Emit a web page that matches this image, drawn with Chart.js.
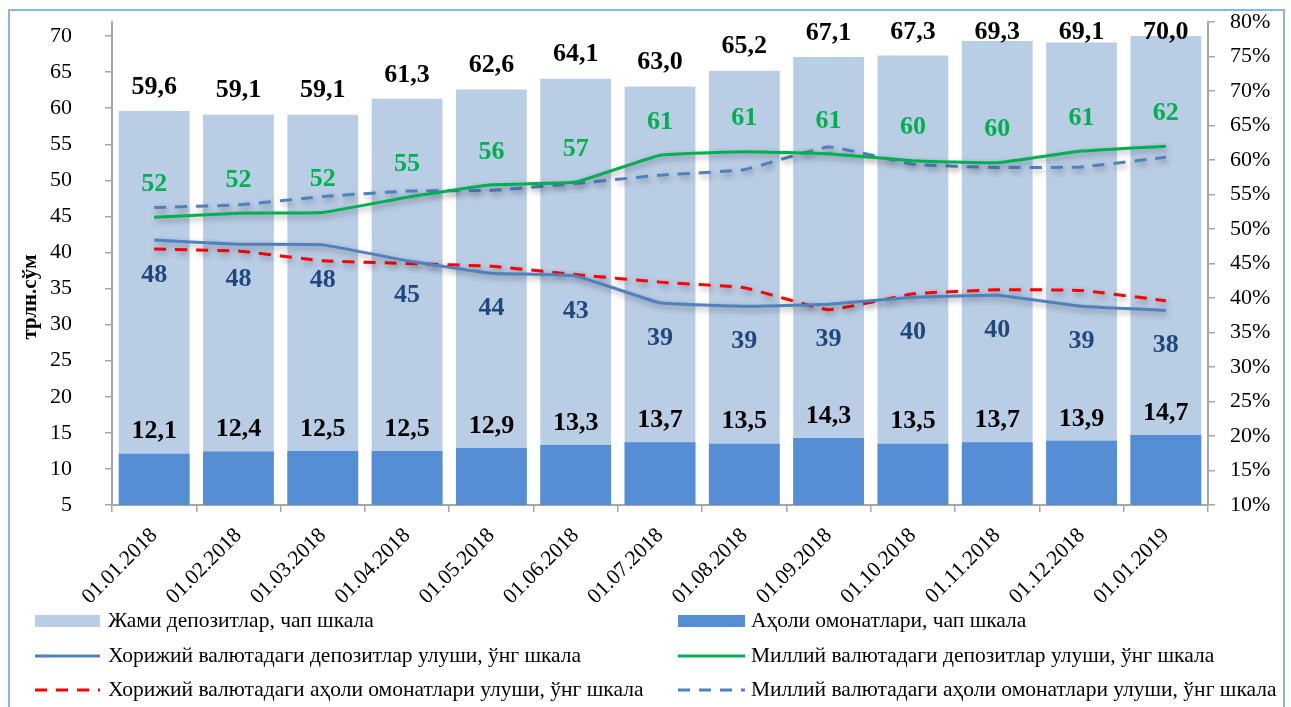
<!DOCTYPE html>
<html><head><meta charset="utf-8">
<script src="https://cdn.jsdelivr.net/npm/chart.js@4.4.1/dist/chart.umd.min.js"></script>
<style>
html,body{margin:0;padding:0;background:#fff;}
#wrap{position:relative;width:1291px;height:707px;overflow:hidden;}
#frame{position:absolute;left:8px;top:9px;width:1277px;height:740px;border:2px solid #8DB3E2;box-sizing:border-box;}
#c{position:absolute;left:0;top:0;}
</style></head><body>
<div id="wrap"><div id="frame"></div><canvas id="c" width="1291" height="707"></canvas></div>
<script>
const categories = ['01.01.2018','01.02.2018','01.03.2018','01.04.2018','01.05.2018','01.06.2018','01.07.2018','01.08.2018','01.09.2018','01.10.2018','01.11.2018','01.12.2018','01.01.2019'];
const totalDeposits = [59.6, 59.1, 59.1, 61.3, 62.6, 64.1, 63.0, 65.2, 67.1, 67.3, 69.3, 69.1, 70.0];
const householdDeposits = [12.1, 12.4, 12.5, 12.5, 12.9, 13.3, 13.7, 13.5, 14.3, 13.5, 13.7, 13.9, 14.7];
const foreignDepShare = [48.4, 47.8, 47.7, 45.4, 43.6, 43.2, 39.3, 38.8, 39.1, 40.1, 40.4, 38.8, 38.2];
const nationalDepShare = [51.7, 52.3, 52.4, 54.6, 56.4, 56.8, 60.7, 61.2, 60.9, 59.9, 59.6, 61.3, 62.0];
const foreignHhShare = [47.1, 46.8, 45.4, 45.0, 44.6, 43.4, 42.3, 41.5, 38.3, 40.6, 41.2, 41.1, 39.6];
const nationalHhShare = [53.1, 53.5, 54.7, 55.5, 55.6, 56.6, 57.8, 58.6, 61.9, 59.4, 58.9, 59.0, 60.4];
const leftTicks = [5,10,15,20,25,30,35,40,45,50,55,60,65,70];
const rightTicks = [10,15,20,25,30,35,40,45,50,55,60,65,70,75,80];
const legendLabels = [
  'Жами депозитлар, чап шкала',
  'Аҳоли омонатлари, чап шкала',
  'Хорижий валютадаги депозитлар улуши, ўнг шкала',
  'Миллий валютадаги депозитлар улуши, ўнг шкала',
  'Хорижий валютадаги аҳоли омонатлари улуши, ўнг шкала',
  'Миллий валютадаги аҳоли омонатлари улуши, ўнг шкала'
];
const yTitle = 'трлн.сўм';

const SERIF = '"Liberation Serif", "Times New Roman", serif';
const C_TOTAL = '#B9CDE5', C_HH = '#558ED5', C_FOR = '#4F81BD', C_NAT = '#00B050', C_RED = '#FF0000', C_NHH = '#4F81BD', C_LBL = '#1F497D';
const fmt1 = v => v.toFixed(1).replace('.', ',');

const shadowPlugin = {
  id: 'shadow',
  beforeDatasetDraw(chart, args) {
    if (chart.data.datasets[args.index].type === 'line') {
      const ctx = chart.ctx; ctx.save();
      ctx.shadowColor = 'rgba(0,0,0,0.35)'; ctx.shadowBlur = 6; ctx.shadowOffsetX = 2; ctx.shadowOffsetY = 3;
    }
  },
  afterDatasetDraw(chart, args) {
    if (chart.data.datasets[args.index].type === 'line') chart.ctx.restore();
  }
};

const labelPlugin = {
  id: 'labels',
  afterDatasetsDraw(chart) {
    const ctx = chart.ctx;
    ctx.save();
    ctx.textAlign = 'center'; ctx.textBaseline = 'middle';
    ctx.font = 'bold 26px ' + SERIF;
    ctx.fillStyle = '#000';
    chart.getDatasetMeta(0).data.forEach((el, i) => ctx.fillText(fmt1(totalDeposits[i]), el.x, Math.max(el.y - 24, 32)));
    chart.getDatasetMeta(1).data.forEach((el, i) => ctx.fillText(fmt1(householdDeposits[i]), el.x, el.y - 22));
    ctx.fillStyle = C_NAT;
    chart.getDatasetMeta(3).data.forEach((el, i) => ctx.fillText(String(Math.round(nationalDepShare[i])), el.x, el.y - 33));
    ctx.fillStyle = C_LBL;
    chart.getDatasetMeta(2).data.forEach((el, i) => ctx.fillText(String(Math.round(foreignDepShare[i])), el.x, el.y + 35));
    // y axis title
    ctx.fillStyle = '#000';
    ctx.font = 'bold 21px ' + SERIF;
    ctx.translate(31, 297); ctx.rotate(-Math.PI / 2);
    ctx.fillText(yTitle, 0, 0);
    ctx.restore();
  }
};

const legendPlugin = {
  id: 'customLegend',
  afterDraw(chart) {
    const ctx = chart.ctx;
    const cols = [{sx: 35, ex: 100, tx: 108}, {sx: 678, ex: 745, tx: 751}];
    const rows = [621, 656, 690];
    const kinds = [
      {type: 'rect', color: C_TOTAL}, {type: 'rect', color: C_HH},
      {type: 'line', color: C_FOR, dash: []}, {type: 'line', color: C_NAT, dash: []},
      {type: 'line', color: C_RED, dash: [12, 9]}, {type: 'line', color: C_NHH, dash: [12, 9]}
    ];
    ctx.save();
    ctx.font = '21.5px ' + SERIF; ctx.textBaseline = 'middle'; ctx.textAlign = 'left';
    legendLabels.forEach((t, i) => {
      const c = cols[i % 2], y = rows[Math.floor(i / 2)], k = kinds[i];
      if (k.type === 'rect') {
        ctx.fillStyle = k.color; ctx.fillRect(c.sx, y - 6, c.ex - c.sx, 12);
      } else {
        ctx.strokeStyle = k.color; ctx.lineWidth = 3; ctx.setLineDash(k.dash);
        ctx.beginPath(); ctx.moveTo(c.sx, y); ctx.lineTo(c.ex, y); ctx.stroke(); ctx.setLineDash([]);
      }
      ctx.fillStyle = '#000'; ctx.fillText(t, c.tx, y);
    });
    ctx.restore();
  }
};

const axisGray = '#A6A6A6';
new Chart(document.getElementById('c'), {
  type: 'bar',
  data: {
    labels: categories,
    datasets: [
      {type: 'bar', label: legendLabels[0], data: totalDeposits, backgroundColor: C_TOTAL, yAxisID: 'y', order: 3, categoryPercentage: 1, barPercentage: 0.84},
      {type: 'bar', label: legendLabels[1], data: householdDeposits, backgroundColor: C_HH, yAxisID: 'y', order: 2, categoryPercentage: 1, barPercentage: 0.84},
      {type: 'line', label: legendLabels[2], data: foreignDepShare, borderColor: C_FOR, borderWidth: 3, pointRadius: 0, tension: 0.1, yAxisID: 'y1', order: 0},
      {type: 'line', label: legendLabels[3], data: nationalDepShare, borderColor: C_NAT, borderWidth: 3, pointRadius: 0, tension: 0.1, yAxisID: 'y1', order: 0},
      {type: 'line', label: legendLabels[4], data: foreignHhShare, borderColor: C_RED, borderWidth: 3, borderDash: [12, 9], pointRadius: 0, tension: 0.1, yAxisID: 'y1', order: 1},
      {type: 'line', label: legendLabels[5], data: nationalHhShare, borderColor: C_NHH, borderWidth: 3, borderDash: [12, 9], pointRadius: 0, tension: 0.1, yAxisID: 'y1', order: 1}
    ]
  },
  options: {
    responsive: false, animation: false, devicePixelRatio: 1,
    layout: {padding: {left: 10, right: 13, top: 22, bottom: 102}},
    plugins: {legend: {display: false}, tooltip: {enabled: false}},
    scales: {
      x: {
        stacked: true, offset: true,
        grid: {display: true, drawOnChartArea: false, drawTicks: true, tickLength: 7, color: axisGray, lineWidth: 1.5, offset: true},
        border: {display: true, color: axisGray, width: 2},
        ticks: {color: '#000', font: {family: SERIF, size: 21.5}, minRotation: 45, maxRotation: 45, autoSkip: false, padding: 11},
        afterFit: s => { s.height = 100; s.paddingLeft = 0; s.paddingRight = 0; }
      },
      y: {
        position: 'left', stacked: false, min: 5, max: 71.95,
        grid: {display: true, drawOnChartArea: false, drawTicks: true, tickLength: 7, color: axisGray, lineWidth: 1.5},
        border: {display: true, color: axisGray, width: 2},
        ticks: {color: '#000', font: {family: SERIF, size: 22}, padding: 33, stepSize: 5},
        afterBuildTicks: s => { s.ticks = leftTicks.map(v => ({value: v})); },
        afterFit: s => { s.width = 102; s.paddingTop = 0; s.paddingBottom = 0; }
      },
      y1: {
        position: 'right', stacked: false, min: 10, max: 80,
        grid: {display: true, drawOnChartArea: false, drawTicks: true, tickLength: 7, color: axisGray, lineWidth: 1.5},
        border: {display: true, color: axisGray, width: 2},
        ticks: {color: '#000', font: {family: SERIF, size: 22}, padding: 15, stepSize: 5, callback: v => v + '%'},
        afterBuildTicks: s => { s.ticks = rightTicks.map(v => ({value: v})); },
        afterFit: s => { s.width = 70; s.paddingTop = 0; s.paddingBottom = 0; }
      }
    }
  },
  plugins: [shadowPlugin, labelPlugin, legendPlugin]
});
</script>
</body></html>
